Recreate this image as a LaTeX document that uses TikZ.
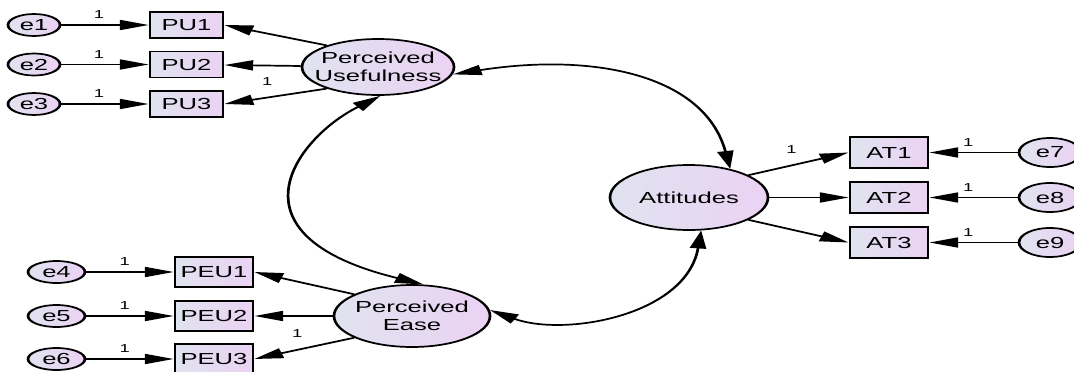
\documentclass[tikz,border=0pt]{standalone}
\usepackage{fontspec}
\setmainfont{Liberation Sans}
\usetikzlibrary{shapes.geometric,arrows.meta}

\definecolor{amosgrey}{RGB}{224,227,240}
\definecolor{amoslilac}{RGB}{235,210,243}

\tikzset{
  varfill/.style={draw,line width=1.7pt,left color=amosgrey,right color=amoslilac},
  observed/.style={varfill,rectangle,inner sep=0pt,minimum height=26pt,
    font=\fontsize{16}{18}\selectfont},
  latent/.style={varfill,ellipse,align=center,
    font=\fontsize{16}{18}\selectfont},
  errvar/.style={varfill,ellipse,inner sep=0pt,minimum height=22pt,
    font=\fontsize{16}{18}\selectfont},
  regr/.style={->,line width=1.7pt},
  cov/.style={<->,line width=1.7pt},
  weight/.style={font=\fontsize{11.5}{12}\selectfont,inner sep=1.5pt,above=4pt}
}

\begin{document}
\begin{tikzpicture}[>={Triangle[length=18pt,width=10pt]},x=0.625pt,y=-1pt]
  % Configurable parameters
  \def\stretch{1.6}
  \def\boxw{48.75pt}
  %
  \useasboundingbox (0pt,0pt) rectangle (1074pt,-372pt);
  \begin{scope}[transform canvas={xscale=\stretch}]
  %
  % Latent variables
  \node[latent,minimum width=95pt,minimum height=56pt,inner xsep=-6pt]
    (PU) at (378,67) {Perceived\\Usefulness};
  \node[latent,minimum width=97.5pt,minimum height=62pt,inner xsep=-1.5pt]
    (PE) at (412,316) {Perceived\\Ease};
  \node[latent,minimum width=98.75pt,minimum height=65pt]
    (AT) at (689,197.5) {Attitudes};
  %
  % Indicators
  \node[observed,minimum width=45.6pt] (PU1) at (186.5,25) {PU1};
  \node[observed,minimum width=45.6pt] (PU2) at (186.5,64.5) {PU2};
  \node[observed,minimum width=45.6pt] (PU3) at (186.5,104) {PU3};
  \node[observed,minimum width=\boxw,minimum height=30pt] (PEU1) at (214,272) {PEU1};
  \node[observed,minimum width=\boxw,minimum height=30pt] (PEU2) at (214,316) {PEU2};
  \node[observed,minimum width=\boxw,minimum height=30pt] (PEU3) at (214,359) {PEU3};
  \node[observed,minimum width=\boxw,minimum height=31pt] (AT1) at (889,152.5) {AT1};
  \node[observed,minimum width=\boxw,minimum height=31pt] (AT2) at (889,197.5) {AT2};
  \node[observed,minimum width=\boxw,minimum height=31pt] (AT3) at (889,242.5) {AT3};
  %
  % Error terms
  \node[errvar,minimum width=32.5pt] (e1) at (34,25) {e1};
  \node[errvar,minimum width=32.5pt] (e2) at (34,64.5) {e2};
  \node[errvar,minimum width=32.5pt] (e3) at (34,104) {e3};
  \node[errvar,minimum width=35.6pt] (e4) at (56.5,272) {e4};
  \node[errvar,minimum width=35.6pt] (e5) at (56.5,316) {e5};
  \node[errvar,minimum width=35.6pt] (e6) at (56.5,359) {e6};
  \node[errvar,minimum width=38.75pt,minimum height=29pt] (e7) at (1050,152.5) {e7};
  \node[errvar,minimum width=38.75pt,minimum height=29pt] (e8) at (1050,197.5) {e8};
  \node[errvar,minimum width=38.75pt,minimum height=29pt] (e9) at (1050,242.5) {e9};
  %
  % Error paths
  \draw[regr] (e1) -- (PU1) node[weight,pos=.43] (w1) {1};
  \draw[regr] (e2) -- (PU2) node[weight,pos=.43] (w2) {1};
  \draw[regr] (e3) -- (PU3) node[weight,pos=.43] (w3) {1};
  \draw[regr] (e4) -- (PEU1) node[weight,pos=.44] (w4) {1};
  \draw[regr] (e5) -- (PEU2) node[weight,pos=.44] (w5) {1};
  \draw[regr] (e6) -- (PEU3) node[weight,pos=.44] (w6) {1};
  \draw[regr] (e7) -- (AT1) node[weight,pos=.56] (w7) {1};
  \draw[regr] (e8) -- (AT2) node[weight,pos=.56] (w8) {1};
  \draw[regr] (e9) -- (AT3) node[weight,pos=.56] (w9) {1};
  %
  % Loadings
  \draw[regr] (PU.146) -- (PU1.east);
  \draw[regr] (PU) -- (PU2);
  \draw[regr] (PU.214) -- (PU3.east) node[weight,pos=.58,above=6pt] (w10) {1};
  \draw[regr] (PE.149) -- (PEU1.east);
  \draw[regr] (PE) -- (PEU2);
  \draw[regr] (PE.211) -- (PEU3.east) node[weight,pos=.57,above=6pt] (w11) {1};
  \draw[regr] (AT.31) -- (AT1.west) node[weight,pos=.43,above=6pt] (w12) {1};
  \draw[regr] (AT) -- (AT2);
  \draw[regr] (AT.-31) -- (AT3.west);
  %
  % Covariances
  \draw[cov] (PU.-9) .. controls +(141,-22) and +(-26,-94) .. (AT.48);
  \draw[cov] (PU.-87) .. controls +(-81,40) and +(-205,-50) .. (PE.77);
  \draw[cov] (PE.7) .. controls +(75,27) and +(-15,85) .. (AT.-77);
  %
  \end{scope}
\end{tikzpicture}
\end{document}
